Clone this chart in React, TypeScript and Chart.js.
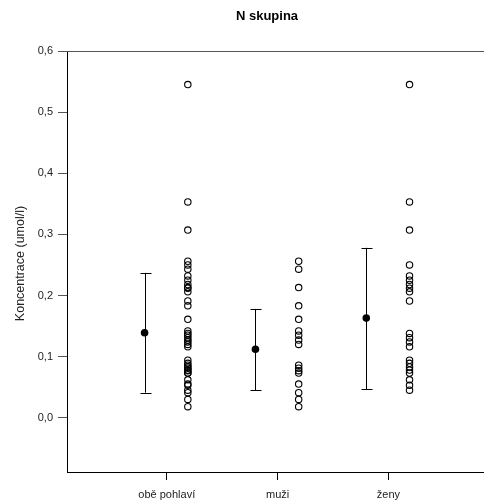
import React, { useEffect, useRef } from "react";
import { Chart, registerables } from "chart.js";

Chart.register(...registerables);

// Groups on the x axis
const categories = ["obě pohlaví", "muži", "ženy"];

// Group means with their error-bar limits (umol/l)
const meanValues = [0.139, 0.112, 0.163];
const lowerValues = [0.041, 0.045, 0.047];
const upperValues = [0.237, 0.178, 0.278];

// Individual measurements per group (umol/l)
const obeValues = [
  0.545, 0.353, 0.307, 0.256, 0.25, 0.243, 0.232, 0.225, 0.218, 0.213, 0.212,
  0.206, 0.191, 0.183, 0.161, 0.142, 0.138, 0.135, 0.131, 0.127, 0.124, 0.12,
  0.116, 0.094, 0.089, 0.086, 0.083, 0.081, 0.078, 0.077, 0.073, 0.073, 0.062,
  0.055, 0.053, 0.045, 0.041, 0.03, 0.018,
];
const muziValues = [
  0.256, 0.243, 0.213, 0.183, 0.161, 0.142, 0.135, 0.127, 0.12, 0.086, 0.081,
  0.077, 0.073, 0.055, 0.041, 0.03, 0.018,
];
const zenyValues = [
  0.545, 0.353, 0.307, 0.25, 0.232, 0.225, 0.218, 0.212, 0.206, 0.191, 0.138,
  0.131, 0.124, 0.116, 0.094, 0.089, 0.083, 0.078, 0.073, 0.062, 0.053, 0.045,
];

// Y tick values
const yTicks = [0, 0.1, 0.2, 0.3, 0.4, 0.5, 0.6];

const groupValues = [obeValues, muziValues, zenyValues];
const MEAN_SHIFT = -0.2;
const POINT_SHIFT = 0.19;

const FONT = "Arial, 'Liberation Sans', sans-serif";

const frameAndBars = {
  id: "frameAndBars",
  afterDatasetsDraw(chart: any) {
    const { ctx, chartArea, scales } = chart;
    const x = scales.x;
    const y = scales.y;
    ctx.save();
    // error bars
    ctx.strokeStyle = "#000";
    ctx.lineWidth = 1;
    meanValues.forEach((_, i) => {
      const px = Math.round(x.getPixelForValue(i + 1 + MEAN_SHIFT)) + 0.5;
      const top = y.getPixelForValue(upperValues[i]);
      const bot = y.getPixelForValue(lowerValues[i]);
      ctx.beginPath();
      ctx.moveTo(px, top);
      ctx.lineTo(px, bot);
      ctx.moveTo(px - 5, Math.round(top) + 0.5);
      ctx.lineTo(px + 6, Math.round(top) + 0.5);
      ctx.moveTo(px - 5, Math.round(bot) + 0.5);
      ctx.lineTo(px + 6, Math.round(bot) + 0.5);
      ctx.stroke();
    });
    // top frame line
    const topY = Math.round(chartArea.top) + 0.5;
    ctx.strokeStyle = "#555";
    ctx.beginPath();
    ctx.moveTo(chartArea.left - 9, topY);
    ctx.lineTo(chartArea.right + 10, topY);
    ctx.stroke();
    ctx.restore();
  },
  afterDraw(chart: any) {
    const { ctx, chartArea } = chart;
    ctx.save();
    ctx.fillStyle = "#000";
    ctx.font = `bold 13px ${FONT}`;
    ctx.textAlign = "center";
    ctx.textBaseline = "middle";
    ctx.fillText("N skupina", 267, 16);
    ctx.font = `12.5px ${FONT}`;
    ctx.fillStyle = "#222";
    ctx.translate(21, (chartArea.top + chartArea.bottom) / 2 + 2);
    ctx.rotate(-Math.PI / 2);
    ctx.fillText("Koncentrace (umol/l)", 0, 0);
    ctx.restore();
  },
};

export default function App() {
  const canvasRef = useRef<HTMLCanvasElement | null>(null);

  useEffect(() => {
    if (!canvasRef.current) return;
    const scatterData: { x: number; y: number }[] = [];
    groupValues.forEach((vals, i) =>
      vals.forEach((v) => scatterData.push({ x: i + 1 + POINT_SHIFT, y: v }))
    );
    const meanData = meanValues.map((v, i) => ({ x: i + 1 + MEAN_SHIFT, y: v }));

    const chart = new Chart(canvasRef.current, {
      type: "scatter",
      data: {
        datasets: [
          {
            label: "hodnoty",
            data: scatterData,
            pointRadius: 3.2,
            pointBorderWidth: 1.1,
            pointBorderColor: "#000",
            pointBackgroundColor: "rgba(255,255,255,0)",
            clip: false,
          },
          {
            label: "průměr",
            data: meanData,
            pointRadius: 3.8,
            pointBorderWidth: 0,
            pointBackgroundColor: "#000",
            pointBorderColor: "#000",
            clip: false,
          },
        ],
      },
      plugins: [frameAndBars],
      options: {
        animation: false,
        responsive: false,
        devicePixelRatio: 1,
        layout: { padding: { top: 51, left: 0, right: 0, bottom: 0 } },
        plugins: {
          legend: { display: false },
          title: { display: false },
          tooltip: { enabled: false },
        },
        scales: {
          x: {
            type: "linear",
            min: 0.1,
            max: 3.87,
            afterBuildTicks: (scale: any) => {
              scale.ticks = categories.map((_, i) => ({ value: i + 1 }));
            },
            afterFit: (scale: any) => {
              scale.height = 30;
            },
            ticks: {
              autoSkip: false,
              maxRotation: 0,
              padding: 8,
              color: "#222",
              font: { family: FONT, size: 11 },
              callback: (v: any) => categories[Number(v) - 1] ?? "",
            },
            grid: {
              drawOnChartArea: false,
              drawTicks: true,
              tickLength: 8,
              color: "#000",
            },
            border: { display: true, color: "#000", width: 1 },
          },
          y: {
            type: "linear",
            min: -0.0888,
            max: 0.6,
            afterBuildTicks: (scale: any) => {
              scale.ticks = yTicks.map((v) => ({ value: v }));
            },
            afterFit: (scale: any) => {
              scale.width = 67;
            },
            ticks: {
              padding: 5,
              color: "#222",
              font: { family: FONT, size: 11 },
              callback: (v: any) => Number(v).toFixed(1).replace(".", ","),
            },
            grid: {
              drawOnChartArea: false,
              drawTicks: true,
              tickLength: 9,
              color: "#555",
            },
            border: { display: true, color: "#000", width: 1 },
          },
        },
      },
    });
    return () => chart.destroy();
  }, []);

  return (
    <div
      style={{
        position: "absolute",
        left: 0,
        top: 0,
        width: 484,
        height: 502,
        overflow: "hidden",
        background: "#fff",
      }}
    >
      <canvas ref={canvasRef} width={490} height={502} style={{ display: "block" }} />
    </div>
  );
}
